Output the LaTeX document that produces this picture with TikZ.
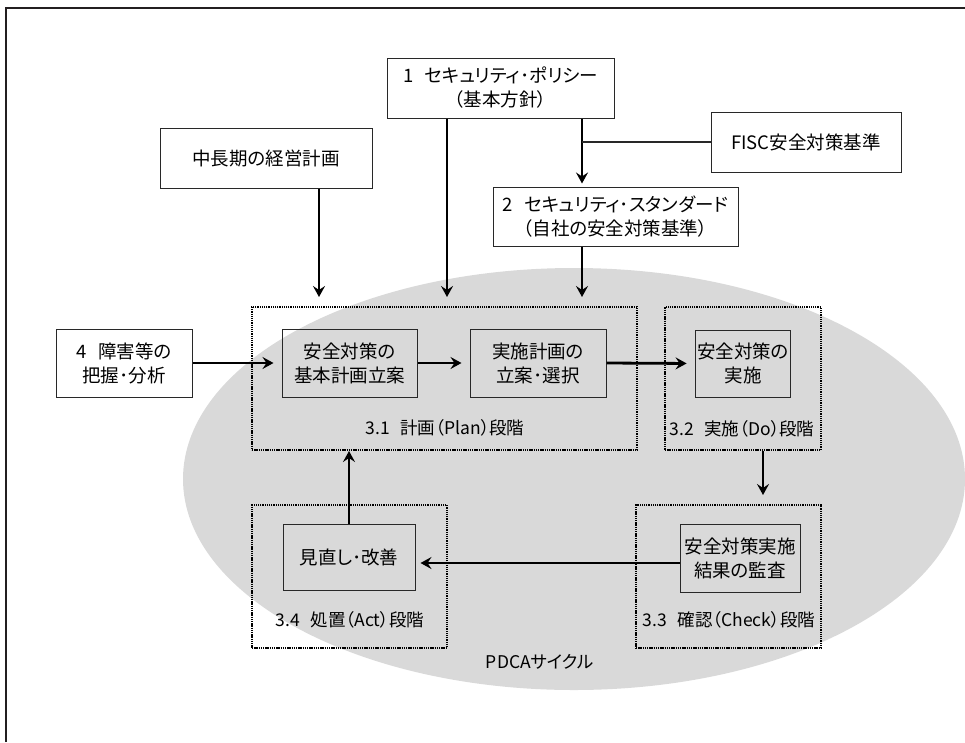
\documentclass[tikz,border=0pt]{standalone}
\usepackage{fontspec}
\setmainfont{Noto Sans CJK JP}[RawFeature=+palt]
\usetikzlibrary{arrows.meta}
\definecolor{ellgray}{RGB}{217,217,217}
\definecolor{framegray}{RGB}{35,31,32}
\definecolor{boxline}{RGB}{40,40,40}
\newcommand{\gapx}{\hspace{0.6em}}
\tikzset{
  wbox/.style={draw=boxline, line width=1pt, fill=white, align=center, font=\fontsize{18.5}{24}\selectfont, inner sep=2pt},
  gbox/.style={draw=boxline, line width=1pt, align=center, font=\fontsize{18.5}{24}\selectfont, inner sep=2pt},
  dotbox/.style={draw=black, line width=2pt, dash pattern=on 1.3pt off 0.9pt, inner sep=0pt},
  lbl/.style={font=\fontsize{17.5}{22}\selectfont, inner sep=0pt},
  arr/.style={line width=2.8pt, -{Stealth[length=11pt,width=12pt,inset=4pt]}}
}
\begin{document}
\begin{tikzpicture}[x=1pt,y=-1pt]
\useasboundingbox (0,0) rectangle (965,742);
% frame
\draw[line width=2pt, framegray] (6,742) -- (6,8) -- (965,8);
% ellipse
\fill[ellgray] (574,479) ellipse [x radius=391, y radius=211];
% top boxes
\node[wbox, minimum width=227pt, minimum height=60pt] (pol) at (500.5,88) {1\gapx セキュリティ･ポリシー\\（基本方針）};
\node[wbox, minimum width=190pt, minimum height=60pt] (fisc) at (806,142) {FISC安全対策基準};
\node[wbox, minimum width=245pt, minimum height=59pt] (std) at (615.5,216.5) {2\gapx セキュリティ･スタンダード\\（自社の安全対策基準）};
\node[wbox, minimum width=212pt, minimum height=60pt] (mid) at (266,158) {中長期の経営計画};
\node[wbox, minimum width=136pt, minimum height=68pt] (fail) at (124,363) {4\gapx 障害等の\\把握･分析};
% phase boxes
\node[dotbox, minimum width=385pt, minimum height=143pt] (plan) at (444.5,378.5) {};
\node[dotbox, minimum width=156pt, minimum height=143pt] (do) at (743,378.5) {};
\node[dotbox, minimum width=185pt, minimum height=143pt] (check) at (728.5,576.5) {};
\node[dotbox, minimum width=195pt, minimum height=143pt] (act) at (349.5,576.5) {};
% inner boxes
\node[gbox, minimum width=135pt, minimum height=68pt] (p1) at (349.5,363) {安全対策の\\基本計画立案};
\node[gbox, minimum width=136pt, minimum height=68pt] (p2) at (538,363) {実施計画の\\立案･選択};
\node[gbox, minimum width=94pt, minimum height=67pt] (d1) at (743,363.5) {安全対策の\\実施};
\node[gbox, minimum width=120pt, minimum height=68pt] (c1) at (740,558) {安全対策実施\\結果の監査};
\node[gbox, minimum width=132pt, minimum height=66pt] (a1) at (349,557) {見直し･改善};
% labels
\node[lbl] (lp) at (445,428) {3.1\gapx 計画（Plan）段階};
\node[lbl] (ld) at (742,429) {3.2\gapx 実施（Do）段階};
\node[lbl] (lc) at (729,620) {3.3\gapx 確認（Check）段階};
\node[lbl] (la) at (350,620) {3.4\gapx 処置（Act）段階};
\node[lbl] (pdca) at (540,662) {PDCAサイクル};
% connectors
\coordinate (j) at ([xshift=81.5pt]pol.south |- fisc.west);
\draw[arr] ([xshift=53pt]mid.south) -- ([xshift=53pt,yshift=9pt]mid.south |- plan.north);
\draw[arr] ([xshift=-53.5pt]pol.south) -- ([xshift=-53.5pt,yshift=9pt]pol.south |- plan.north);
\draw[arr] ([xshift=81.5pt]pol.south) -- ([xshift=81.5pt,yshift=3pt]pol.south |- std.north);
\draw[line width=1.3pt, boxline] (fisc.west) -- (j);
\draw[arr] ([xshift=-33.5pt]std.south) -- ([xshift=-33.5pt,yshift=9pt]std.south |- plan.north);
\draw[arr, shorten >=8pt] (fail.east |- p1.west) -- (p1.west);
\draw[arr, shorten >=8pt] (p1.east) -- (p2.west);
\draw[arr, shorten >=8pt] (p2.east) -- (d1.west);
\draw[arr] ([xshift=20pt]do.south) -- ([xshift=20pt,yshift=9pt]do.south |- check.north);
\draw[arr, shorten >=5pt] (c1.west |- 0,563) -- (a1.east |- 0,563);
\draw[arr] (a1.north) -- (a1.north |- plan.south);
\end{tikzpicture}
\end{document}
